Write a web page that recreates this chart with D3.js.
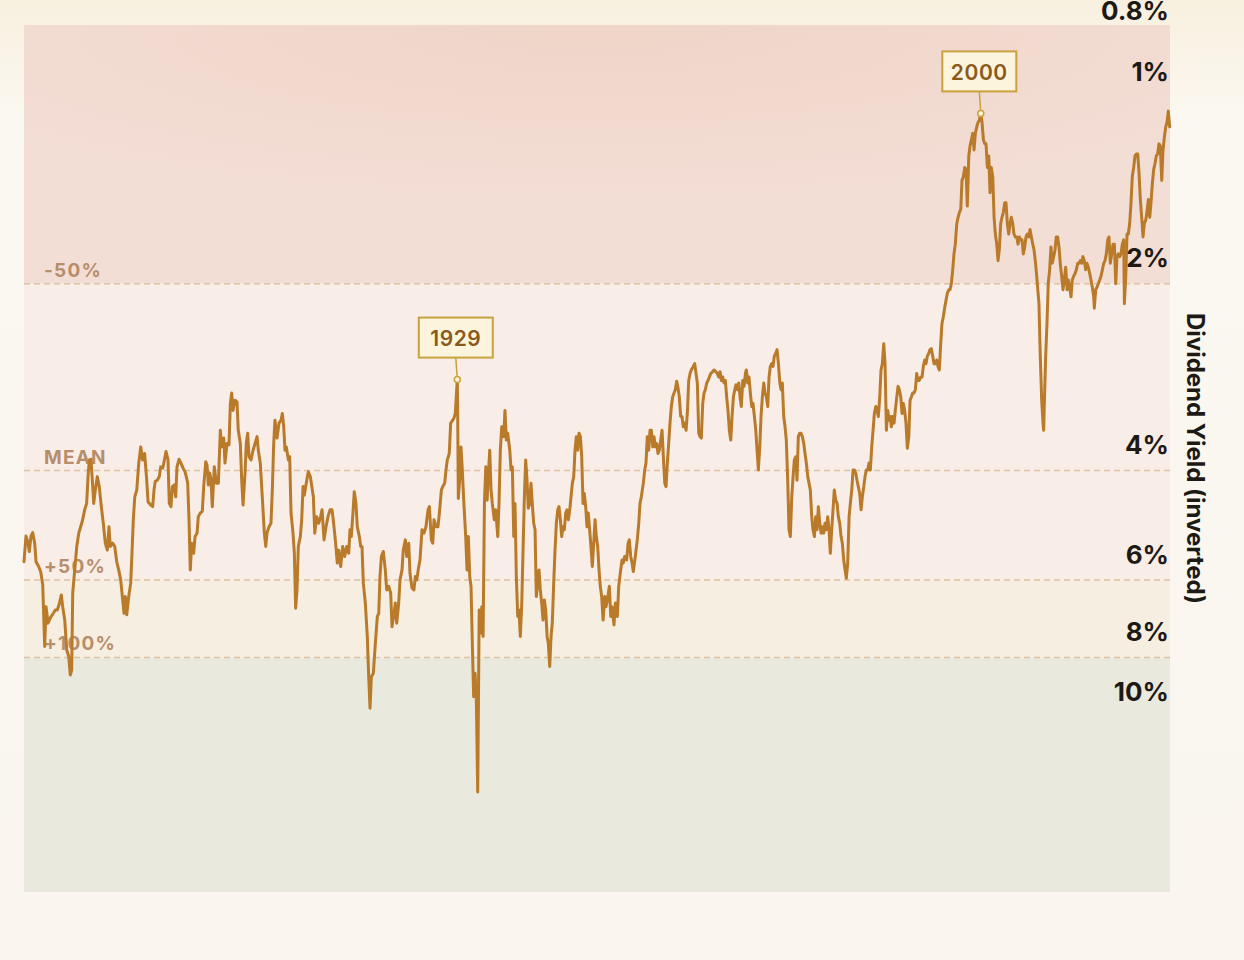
<!DOCTYPE html>
<html>
<head>
<meta charset="utf-8">
<script src="https://cdn.jsdelivr.net/npm/d3@7"></script>
<style>
  html, body { margin: 0; padding: 0; }
  body { width: 1244px; height: 960px; overflow: hidden; background: #fbf8f2; font-family: Inter, "Noto Sans", "DejaVu Sans", sans-serif; }
</style>
</head>
<body>
<svg id="chart" width="1244" height="960"></svg>
<script>
// ---------- DATA ----------
// [decimal year, dividend yield %]
const yields1871to1899 = [
[1870.88,6.17],[1871.15,5.61],[1871.42,5.75],[1871.60,5.94],[1871.83,5.61],[1872.06,5.54],[1872.33,5.76],[1872.51,6.17],[1872.87,6.28],[1873.14,6.40],
[1873.42,6.72],[1873.69,8.45],[1873.87,7.29],[1874.14,7.75],[1874.50,7.58],[1874.86,7.47],[1875.13,7.38],[1875.40,7.38],[1875.67,7.21],[1875.94,6.98],
[1876.13,7.29],[1876.41,7.66],[1876.68,8.56],[1876.95,8.77],[1877.16,9.39],[1877.35,9.22],[1877.49,6.93],[1877.76,6.36],[1878.04,5.83],[1878.31,5.55],
[1878.57,5.42],[1878.84,5.28],[1879.11,5.09],[1879.38,4.97],[1879.57,4.50],[1879.74,4.23],[1879.97,4.22],[1880.15,4.56],[1880.34,4.97],[1880.55,4.73],
[1880.82,4.50],[1881.09,4.67],[1881.37,5.03],[1881.64,5.35],[1881.91,5.76],[1882.18,5.91],[1882.41,5.42],[1882.59,5.83],[1882.92,5.76],[1883.19,5.83],
[1883.46,6.17],[1883.73,6.36],[1884.00,6.60],[1884.27,7.11],[1884.45,7.47],[1884.63,7.02],[1884.82,7.51],[1885.09,7.02],[1885.36,6.68],[1885.53,5.98],
[1885.71,5.28],[1885.91,4.85],[1886.18,4.73],[1886.45,4.28],[1886.72,4.03],[1886.98,4.23],[1887.25,4.13],[1887.53,4.56],[1887.71,4.94],[1888.07,5.00],
[1888.34,5.03],[1888.52,4.73],[1888.69,4.58],[1888.96,4.56],[1889.24,4.50],[1889.43,4.34],[1889.70,4.36],[1889.88,4.26],[1890.15,4.10],[1890.42,4.23],
[1890.59,4.97],[1890.82,5.03],[1891.01,4.67],[1891.28,4.64],[1891.46,4.85],[1891.64,4.34],[1891.91,4.22],[1892.18,4.28],[1892.46,4.36],[1892.73,4.42],
[1892.90,4.50],[1893.09,4.61],[1893.27,5.28],[1893.44,6.36],[1893.63,5.76],[1893.90,5.98],[1894.09,5.62],[1894.36,5.55],[1894.53,5.22],[1894.80,5.15],
[1895.07,5.12],[1895.26,4.67],[1895.54,4.26],[1895.71,4.31],[1895.89,4.64],[1896.08,4.44],[1896.25,4.56],[1896.43,5.03],[1896.70,4.34],[1896.97,4.61],
[1897.25,4.61],[1897.52,3.79],[1897.71,4.03],[1897.98,3.90],[1898.15,4.28],[1898.42,3.98],[1898.69,4.00],[1898.88,3.43],[1899.06,3.30],[1899.24,3.52],
[1899.51,3.39],[1899.78,3.41]
];
const yields1900to1929 = [
[1899.95,3.79],[1900.23,3.98],[1900.42,4.56],[1900.60,5.00],[1900.87,4.44],[1901.04,3.98],[1901.23,3.83],[1901.41,4.18],[1901.68,4.23],[1901.96,4.08],
[1902.23,3.98],[1902.50,3.88],[1902.67,4.08],[1902.94,4.28],[1903.21,4.85],[1903.49,5.55],[1903.68,5.83],[1903.85,5.55],[1904.12,5.42],[1904.39,5.35],
[1904.57,4.73],[1904.76,3.98],[1904.93,3.65],[1905.21,3.90],[1905.48,3.69],[1905.75,3.65],[1905.93,3.56],[1906.12,3.74],[1906.29,4.08],[1906.47,4.03],
[1906.75,4.23],[1906.93,4.18],[1907.11,5.15],[1907.38,5.55],[1907.56,5.98],[1907.74,7.33],[1907.92,6.85],[1908.10,5.83],[1908.37,5.62],[1908.56,5.28],
[1908.74,4.67],[1908.91,4.82],[1909.18,4.61],[1909.45,4.42],[1909.73,4.50],[1910.00,4.73],[1910.14,4.85],[1910.33,5.55],[1910.59,5.22],[1910.86,5.35],
[1911.13,5.22],[1911.32,5.09],[1911.59,5.69],[1911.86,5.42],[1912.13,5.22],[1912.40,5.09],[1912.67,5.09],[1912.84,5.28],[1913.12,5.69],[1913.39,6.20],
[1913.58,5.91],[1913.85,6.28],[1914.12,5.83],[1914.39,6.05],[1914.67,5.83],[1914.94,5.98],[1915.11,5.48],[1915.29,5.62],[1915.48,5.22],[1915.69,4.76],
[1915.92,4.97],[1916.10,5.42],[1916.38,5.62],[1916.57,5.83],[1916.74,5.83],[1916.92,6.68],[1917.19,7.19],[1917.46,8.14],[1917.65,9.45],[1917.83,10.62],
[1918.01,9.45],[1918.28,9.33],[1918.55,8.35],[1918.82,7.56],[1919.01,7.47],[1919.18,6.52],[1919.37,6.05],[1919.63,5.94],[1919.90,6.36],[1920.09,6.85],
[1920.36,6.76],[1920.63,6.93],[1920.81,7.85],[1921.09,7.47],[1921.26,7.19],[1921.45,7.75],[1921.72,7.19],[1921.90,6.60],[1922.17,6.36],[1922.34,5.91],
[1922.62,5.69],[1922.81,6.05],[1923.08,5.76],[1923.25,6.44],[1923.52,6.80],[1923.79,6.85],[1923.97,6.52],[1924.17,6.60],[1924.44,6.28],[1924.61,6.13],
[1924.88,5.48],[1925.15,5.55],[1925.42,5.42],[1925.70,5.09],[1925.88,5.03],[1926.15,5.69],[1926.34,5.76],[1926.51,5.28],[1926.78,5.42],[1927.05,5.42],
[1927.24,5.15],[1927.51,4.73],[1927.69,4.67],[1927.96,4.61],[1928.14,4.39],[1928.31,4.23],[1928.58,4.13],[1928.77,3.69],[1929.05,3.65],[1929.23,3.62],
[1929.40,3.56],[1929.67,3.14]
];
const yields1929to1949 = [
[1929.72,3.52],[1929.81,4.88],[1929.99,4.56],[1930.17,4.03],[1930.35,4.39],[1930.54,4.91],[1930.81,5.62],[1930.99,6.36],[1931.17,5.62],[1931.36,6.52],
[1931.53,6.76],[1931.71,8.35],[1931.89,10.18],[1932.08,9.33],[1932.25,10.18],[1932.44,14.49],[1932.64,7.38],[1932.81,8.04],[1933.00,7.29],[1933.17,8.14],
[1933.35,4.97],[1933.54,4.34],[1933.72,4.91],[1933.90,4.44],[1934.07,4.08],[1934.25,4.73],[1934.42,4.97],[1934.69,5.28],[1934.88,5.09],[1935.16,5.62],
[1935.33,4.97],[1935.51,4.08],[1935.70,3.74],[1935.97,3.88],[1936.14,3.52],[1936.32,3.93],[1936.51,3.83],[1936.79,4.08],[1936.96,4.39],[1937.14,4.34],
[1937.33,5.62],[1937.50,4.97],[1937.68,6.52],[1937.87,7.56],[1938.04,7.38],[1938.22,8.14],[1938.42,7.19],[1938.59,5.91],[1938.77,4.85],[1938.95,4.23],
[1939.13,4.56],[1939.30,5.06],[1939.49,4.97],[1939.67,4.61],[1939.84,4.97],[1940.04,5.35],[1940.22,5.48],[1940.39,7.02],[1940.58,6.68],[1940.76,6.36],
[1940.93,6.85],[1941.12,7.19],[1941.30,7.66],[1941.48,7.11],[1941.67,7.38],[1941.85,8.14],[1942.02,8.35],[1942.21,9.10],[1942.39,8.14],[1942.56,7.75],
[1942.75,6.68],[1942.93,5.91],[1943.11,5.35],[1943.30,5.09],[1943.47,5.03],[1943.65,5.28],[1943.84,5.62],[1944.01,5.42],[1944.19,5.48],[1944.38,5.15],
[1944.55,5.09],[1944.74,5.28],[1944.93,5.09],[1945.10,4.85],[1945.28,4.61],[1945.47,4.50],[1945.64,4.08],[1945.82,3.88],[1946.01,4.08],[1946.18,3.83],
[1946.37,3.88],[1946.55,4.18],[1946.73,4.97],[1946.90,4.79],[1947.09,5.03],[1947.27,5.42],[1947.44,5.15],[1947.63,5.48],[1947.80,5.83],[1947.99,6.28],
[1948.18,5.76],[1948.36,5.28],[1948.53,5.62],[1948.72,5.83],[1948.90,6.36],[1949.07,6.76],[1949.26,7.02],[1949.45,7.66]
];
const yields1949to1987 = [
[1949.68,7.02],[1949.85,7.29],[1950.03,7.11],[1950.30,6.76],[1950.49,7.56],[1950.66,7.29],[1950.93,7.80],[1951.12,7.19],[1951.39,7.56],[1951.57,6.76],
[1951.84,6.36],[1952.02,6.13],[1952.19,6.20],[1952.38,6.05],[1952.65,6.13],[1952.84,5.76],[1953.01,5.69],[1953.20,6.05],[1953.38,6.20],[1953.55,6.40],
[1953.82,6.05],[1954.09,5.69],[1954.29,5.35],[1954.46,4.97],[1954.64,4.85],[1954.91,4.61],[1955.10,4.39],[1955.27,4.28],[1955.45,3.88],[1955.64,4.08],
[1955.82,3.79],[1956.00,3.79],[1956.19,4.03],[1956.36,3.88],[1956.54,4.03],[1956.73,3.98],[1956.90,4.13],[1957.08,4.08],[1957.27,3.93],[1957.45,3.79],
[1957.63,4.18],[1957.82,4.61],[1957.99,4.67],[1958.17,4.28],[1958.35,3.98],[1958.53,3.69],[1958.71,3.47],[1958.89,3.35],[1959.08,3.30],[1959.25,3.26],
[1959.44,3.16],[1959.62,3.24],[1959.79,3.35],[1959.98,3.60],[1960.16,3.60],[1960.33,3.74],[1960.53,3.69],[1960.71,3.79],[1960.88,3.56],[1961.07,3.15],
[1961.25,3.07],[1961.42,3.03],[1961.69,2.99],[1961.88,2.96],[1962.06,3.07],[1962.24,3.18],[1962.43,3.83],[1962.61,3.88],[1962.78,3.90],[1962.97,3.43],
[1963.15,3.30],[1963.32,3.26],[1963.51,3.18],[1963.69,3.15],[1963.87,3.11],[1964.06,3.07],[1964.33,3.05],[1964.50,3.03],[1964.77,3.05],[1964.95,3.07],
[1965.14,3.11],[1965.32,3.05],[1965.50,3.15],[1965.69,3.11],[1965.86,3.18],[1966.04,3.15],[1966.22,3.35],[1966.40,3.52],[1966.58,3.79],[1966.77,3.93],
[1966.95,3.60],[1967.13,3.35],[1967.32,3.26],[1967.49,3.20],[1967.67,3.26],[1967.86,3.18],[1968.03,3.35],[1968.21,3.47],[1968.40,3.15],[1968.58,3.22],
[1968.76,3.07],[1968.89,3.03],[1969.08,3.18],[1969.25,3.11],[1969.43,3.30],[1969.62,3.47],[1969.79,3.43],[1969.98,3.60],[1970.17,3.79],[1970.34,4.08],
[1970.52,4.39],[1970.71,4.03],[1970.88,3.60],[1971.06,3.35],[1971.25,3.18],[1971.42,3.30],[1971.61,3.35],[1971.79,3.47],[1971.97,3.11],[1972.14,2.99],
[1972.33,2.96],[1972.51,2.99],[1972.68,2.88],[1972.87,2.85],[1973.05,2.81],[1973.24,2.96],[1973.43,3.18],[1973.60,3.26],[1973.77,3.18],[1973.96,3.60],
[1974.14,3.74],[1974.31,3.93],[1974.50,4.56],[1974.68,5.48],[1974.86,5.62],[1975.05,4.85],[1975.23,4.50],[1975.40,4.23],[1975.59,4.18],[1975.76,4.56],
[1975.94,3.88],[1976.13,3.83],[1976.30,3.83],[1976.49,3.88],[1976.68,3.98],[1976.85,4.13],[1977.03,4.28],[1977.22,4.50],[1977.39,4.61],[1977.57,4.73],
[1977.76,5.22],[1977.93,5.48],[1978.12,5.62],[1978.30,5.22],[1978.48,5.48],[1978.66,5.03],[1978.85,5.35],[1979.02,5.55],[1979.19,5.42],[1979.38,5.55],
[1979.56,5.35],[1979.74,5.48],[1979.93,5.22],[1980.11,5.48],[1980.28,5.98],[1980.47,5.48],[1980.65,5.09],[1980.82,4.73],[1981.01,4.91],[1981.20,4.97],
[1981.37,5.22],[1981.56,5.35],[1981.74,5.62],[1981.91,5.76],[1982.10,6.13],[1982.28,6.36],[1982.45,6.56],[1982.64,6.20],[1982.83,5.22],[1983.00,4.97],
[1983.19,4.73],[1983.37,4.39],[1983.54,4.39],[1983.73,4.44],[1983.90,4.56],[1984.08,4.67],[1984.27,4.79],[1984.45,5.09],[1984.63,4.85],[1984.82,4.67],
[1984.99,4.50],[1985.17,4.39],[1985.36,4.39],[1985.53,4.28],[1985.71,4.39],[1985.90,4.03],[1986.08,3.79],[1986.26,3.56],[1986.45,3.47],[1986.62,3.52],
[1986.80,3.60],[1986.99,3.35],[1987.16,3.03],[1987.34,2.96],[1987.53,2.75]
];
const yields1987to2026 = [
[1987.71,2.96],[1987.89,3.79],[1988.08,3.52],[1988.25,3.65],[1988.43,3.60],[1988.56,3.74],[1988.75,3.60],[1988.93,3.69],[1989.10,3.52],[1989.30,3.35],
[1989.47,3.22],[1989.65,3.26],[1989.84,3.35],[1990.01,3.56],[1990.19,3.43],[1990.37,3.52],[1990.55,3.69],[1990.73,4.05],[1990.93,3.88],[1991.10,3.39],
[1991.28,3.35],[1991.46,3.30],[1991.64,3.30],[1991.82,3.26],[1992.00,3.07],[1992.18,3.15],[1992.35,3.15],[1992.55,3.11],[1992.73,3.11],[1992.90,2.99],
[1993.09,2.92],[1993.26,2.96],[1993.44,2.88],[1993.63,2.85],[1993.80,2.81],[1993.98,2.80],[1994.18,2.88],[1994.35,2.96],[1994.53,2.96],[1994.72,2.92],
[1994.89,2.99],[1995.07,3.03],[1995.26,2.75],[1995.43,2.55],[1995.61,2.49],[1995.81,2.40],[1995.98,2.34],[1996.16,2.28],[1996.35,2.25],[1996.52,2.25],
[1996.70,2.20],[1996.89,2.09],[1997.06,1.97],[1997.24,1.90],[1997.44,1.76],[1997.62,1.72],[1997.79,1.69],[1997.98,1.67],[1998.15,1.50],[1998.33,1.48],
[1998.52,1.43],[1998.69,1.44],[1998.87,1.65],[1999.07,1.37],[1999.24,1.32],[1999.42,1.29],[1999.61,1.26],[1999.78,1.34],[1999.96,1.26],[2000.15,1.23],
[2000.32,1.21],[2000.50,1.20],[2000.70,1.17],[2000.87,1.21],[2001.05,1.29],[2001.24,1.31],[2001.41,1.31],[2001.59,1.43],[2001.78,1.37],[2001.95,1.57],
[2002.12,1.43],[2002.32,1.48],[2002.50,1.72],[2002.67,1.83],[2002.86,1.90],[2003.04,2.02],[2003.21,1.94],[2003.40,1.76],[2003.57,1.72],[2003.75,1.69],
[2003.95,1.63],[2004.12,1.63],[2004.30,1.76],[2004.49,1.83],[2004.66,1.76],[2004.84,1.72],[2005.03,1.76],[2005.20,1.83],[2005.38,1.85],[2005.58,1.85],
[2005.75,1.90],[2005.93,1.85],[2006.12,1.87],[2006.29,1.87],[2006.47,1.97],[2006.66,1.92],[2006.83,1.85],[2007.01,1.83],[2007.21,1.85],[2007.38,1.80],
[2007.56,1.85],[2007.75,1.90],[2007.92,1.94],[2008.11,2.03],[2008.27,2.13],[2008.41,2.23],[2008.59,2.37],[2008.77,2.88],[2008.96,3.39],[2009.14,3.69],
[2009.23,3.79],[2009.31,3.47],[2009.50,2.88],[2009.68,2.55],[2009.85,2.20],[2010.04,2.09],[2010.22,1.92],[2010.39,2.04],[2010.59,1.99],[2010.77,1.94],
[2010.94,1.85],[2011.13,1.85],[2011.31,1.92],[2011.48,2.04],[2011.67,2.14],[2011.85,2.25],[2012.02,2.17],[2012.22,2.07],[2012.40,2.25],[2012.57,2.17],
[2012.76,2.23],[2012.94,2.31],[2013.11,2.17],[2013.30,2.14],[2013.48,2.12],[2013.66,2.09],[2013.85,2.04],[2014.02,2.04],[2014.20,2.02],[2014.39,2.04],
[2014.56,1.99],[2014.74,2.02],[2014.93,2.09],[2015.10,2.04],[2015.29,2.07],[2015.48,2.12],[2015.65,2.17],[2015.83,2.23],[2016.02,2.31],[2016.10,2.41],
[2016.29,2.25],[2016.46,2.23],[2016.64,2.20],[2016.83,2.17],[2017.01,2.14],[2017.19,2.09],[2017.38,2.04],[2017.55,2.02],[2017.73,1.97],[2017.92,1.87],
[2018.09,1.85],[2018.27,2.04],[2018.46,1.97],[2018.64,1.90],[2018.82,1.90],[2019.01,2.20],[2019.18,1.99],[2019.36,1.97],[2019.55,1.99],[2019.72,1.97],
[2019.90,1.90],[2020.09,1.87],[2020.18,2.37],[2020.37,2.14],[2020.54,1.83],[2020.71,1.83],[2020.90,1.76],[2021.08,1.63],[2021.25,1.48],[2021.44,1.43],
[2021.62,1.37],[2021.80,1.36],[2021.99,1.36],[2022.17,1.46],[2022.34,1.61],[2022.53,1.72],[2022.71,1.85],[2022.88,1.76],[2023.07,1.74],[2023.24,1.69],
[2023.43,1.61],[2023.62,1.72],[2023.79,1.63],[2023.97,1.52],[2024.16,1.44],[2024.33,1.41],[2024.51,1.37],[2024.70,1.36],[2024.87,1.31],[2025.05,1.32],
[2025.25,1.50],[2025.42,1.34],[2025.60,1.28],[2025.79,1.23],[2025.96,1.21],[2026.14,1.16],[2026.33,1.23]
];

const meanYield = 4.40;                       // long-run mean dividend yield (%)
const refLabels  = ["-50%", "MEAN", "+50%", "+100%"];
const refFactors = [0.5, 1, 1.5, 2];          // multiples of the mean
const tickValues = [0.8, 1, 2, 4, 6, 8, 10];
const tickLabels = ["0.8%", "1%", "2%", "4%", "6%", "8%", "10%"];
const annotationYears = [1929, 2000];
const yearDomain  = [1870.88, 2026.37];
const yieldDomain = [0.843, 21];
const axisTitle = "Dividend Yield (inverted)";

// ---------- CHART ----------
const series = [].concat(yields1871to1899, yields1900to1929, yields1929to1949, yields1949to1987, yields1987to2026);

const W = 1244, H = 960;
const plot = { left: 24, right: 1170, top: 25, bottom: 892 };

const svg = d3.select("#chart");
const defs = svg.append("defs");

const pageGrad = defs.append("linearGradient").attr("id", "pageGrad").attr("x1", 0).attr("y1", 0).attr("x2", 0).attr("y2", 1);
pageGrad.append("stop").attr("offset", "0%").attr("stop-color", "#f8f0df");
pageGrad.append("stop").attr("offset", "12%").attr("stop-color", "#fbf8f1");
pageGrad.append("stop").attr("offset", "100%").attr("stop-color", "#faf6ef");

const topGrad = defs.append("radialGradient").attr("id", "topGrad")
  .attr("cx", "50%").attr("cy", "0%").attr("r", "75%");
topGrad.append("stop").attr("offset", "0%").attr("stop-color", "#f0d5c8");
topGrad.append("stop").attr("offset", "100%").attr("stop-color", "#f3ded6");

svg.append("rect").attr("width", W).attr("height", H).attr("fill", "url(#pageGrad)");

const x = d3.scaleLinear().domain(yearDomain).range([plot.left, plot.right]);
const y = d3.scaleLog().domain(yieldDomain).range([plot.top, plot.bottom]);

// Valuation bands
const levels = refFactors.map(f => meanYield * f);
const bandEdges = [plot.top, y(levels[0]), y(levels[2]), y(levels[3]), plot.bottom];
const bandFills = ["url(#topGrad)", "#f8ede7", "#f6eee1", "#e9e9dd"];
svg.append("g").selectAll("rect").data(bandFills).join("rect")
  .attr("x", plot.left).attr("width", plot.right - plot.left)
  .attr("y", (d, i) => bandEdges[i])
  .attr("height", (d, i) => bandEdges[i + 1] - bandEdges[i])
  .attr("fill", d => d);

// Reference lines and labels
const refG = svg.append("g");
refG.selectAll("line").data(levels).join("line")
  .attr("x1", plot.left).attr("x2", plot.right)
  .attr("y1", d => y(d)).attr("y2", d => y(d))
  .attr("stroke", "#dfc2a4").attr("stroke-width", 1.5).attr("stroke-dasharray", "6,4");
refG.selectAll("text").data(levels).join("text")
  .attr("x", 44).attr("y", d => y(d) - 7)
  .attr("fill", "#b68e6b").attr("font-size", 19).attr("font-weight", 700)
  .attr("letter-spacing", "1.2px")
  .text((d, i) => refLabels[i]);

// Dividend yield line
const line = d3.line().x(d => x(d[0])).y(d => y(d[1]));
svg.append("path").datum(series)
  .attr("d", line).attr("fill", "none")
  .attr("stroke", "#b97a2a").attr("stroke-width", 3)
  .attr("stroke-linejoin", "round").attr("stroke-linecap", "round");

// Annotations at the lowest yields around 1929 and 2000
const annG = svg.append("g");
annotationYears.forEach(yr => {
  const near = series.filter(d => d[0] >= yr - 1 && d[0] <= yr + 1.5);
  const p = d3.least(near, d => d[1]);
  const px = x(p[0]), py = y(p[1]);
  const bw = 74, bh = 40, gap = 22, bx = px - 1.5;
  annG.append("line").attr("x1", bx).attr("y1", py - gap).attr("x2", px).attr("y2", py)
    .attr("stroke", "#c9a23f").attr("stroke-width", 1.5);
  annG.append("rect").attr("x", bx - bw / 2).attr("y", py - gap - bh).attr("width", bw).attr("height", bh)
    .attr("fill", "#fdf4dd").attr("stroke", "#c9a23f").attr("stroke-width", 2);
  annG.append("text").attr("x", bx).attr("y", py - gap - bh / 2 + 1)
    .attr("text-anchor", "middle").attr("dominant-baseline", "central")
    .attr("fill", "#8a5a1c").attr("font-size", 21).attr("font-weight", 600)
    .attr("letter-spacing", "0.6px")
    .text(String(yr));
  annG.append("circle").attr("cx", px).attr("cy", py).attr("r", 3)
    .attr("fill", "#fdf4dd").attr("stroke", "#c9a23f").attr("stroke-width", 1.5);
});

// Right-side tick labels (inverted log axis)
svg.append("g").selectAll("text").data(tickValues).join("text")
  .attr("x", 1169).attr("y", d => y(d))
  .attr("text-anchor", "end").attr("dominant-baseline", "central")
  .attr("fill", "#1d1a16").attr("font-size", 26).attr("font-weight", 700)
  .text((d, i) => tickLabels[i]);

// Axis title
svg.append("text")
  .attr("transform", `translate(1195, ${(plot.top + plot.bottom) / 2}) rotate(90)`)
  .attr("text-anchor", "middle").attr("dominant-baseline", "central")
  .attr("fill", "#1d1a16").attr("font-size", 24).attr("font-weight", 700)
  .text(axisTitle);
</script>
</body>
</html>
